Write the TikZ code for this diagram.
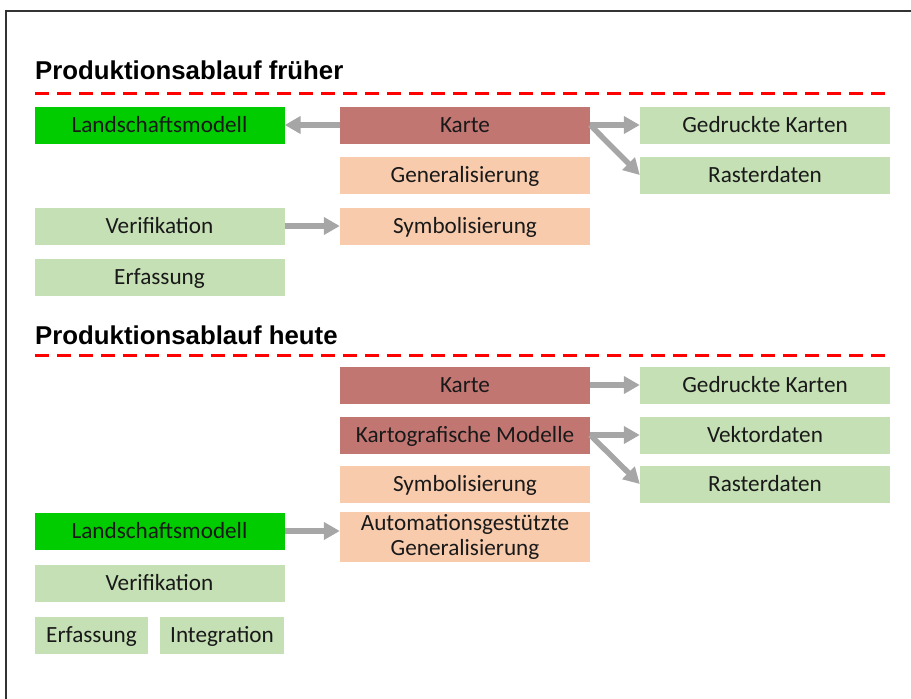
\documentclass[tikz,border=0pt]{standalone}
\usepackage{fontspec}
\setmainfont{Carlito}
\newfontfamily\titlefont{Liberation Sans}
\usepackage{xcolor}
\usepackage{tikz}
\usetikzlibrary{positioning,calc,arrows.meta}

\definecolor{hellgruen}{HTML}{C5E0B4}
\definecolor{vollgruen}{HTML}{00CC00}
\definecolor{kartenrot}{HTML}{C27672}
\definecolor{pfirsich}{HTML}{F8CBAD}
\definecolor{pfeilgrau}{HTML}{A6A6A6}

\begin{document}
\begin{tikzpicture}[x=1pt, y=-1pt,
    box/.style={minimum width=250pt, minimum height=37pt, inner sep=0pt,
        text height=15.5pt, text depth=0.5pt,
        align=center, text=black!90, font=\fontsize{23.2}{25}\selectfont},
    gruen/.style={box, fill=hellgruen},
    modell/.style={box, fill=vollgruen},
    rot/.style={box, fill=kartenrot},
    orange/.style={box, fill=pfirsich},
    titel/.style={anchor=base west, inner sep=0pt, font=\titlefont\bfseries\fontsize{25.8}{30}\selectfont},
    trenn/.style={red, line width=3pt, dash pattern=on 14pt off 8pt},
    pfeil/.style={pfeilgrau, line width=5.5pt, -{Triangle[length=16pt, width=17pt]}}]
    \useasboundingbox (0,0) rectangle (911,699);

    % Rahmen
    \draw [line width=1.2pt, black!80] (6,705) |- (915,11);

    % Produktionsablauf frueher
    \node [titel] (t1) at (35,79) {Produktionsablauf früher};
    \draw [trenn] (35,93) -- (890,93);

    \node [modell] (lm1) at (159.5,125) {Landschaftsmodell};
    \node [rot] (karte1) at (465,125) {Karte};
    \node [gruen] (druck1) at (765,125) {Gedruckte Karten};
    \node [orange] (gen1) at (465,175) {Generalisierung};
    \node [gruen] (raster1) at (765,175) {Rasterdaten};
    \node [gruen] (verif1) at (159.5,226) {Verifikation};
    \node [orange] (symb1) at (465,226) {Symbolisierung};
    \node [gruen] (erf1) at (159.5,277) {Erfassung};

    \draw [pfeil] (karte1.west) -- (lm1.east);
    \draw [pfeil] (karte1.east) -- (druck1.west);
    \draw [pfeil] (karte1.east) -- (raster1.west);
    \draw [pfeil] (verif1.east) -- (symb1.west);

    % Produktionsablauf heute
    \node [titel] (t2) at (35,344) {Produktionsablauf heute};
    \draw [trenn] (35,355) -- (890,355);

    \node [rot] (karte2) at (465,385) {Karte};
    \node [gruen] (druck2) at (765,385) {Gedruckte Karten};
    \node [rot] (kmod) at (465,435) {Kartografische Modelle};
    \node [gruen] (vekt) at (765,435) {Vektordaten};
    \node [orange] (symb2) at (465,484) {Symbolisierung};
    \node [gruen] (raster2) at (765,484) {Rasterdaten};
    \node [orange, minimum height=50pt, text height=, text depth=,
        font=\fontsize{23.2}{24.5}\selectfont] (auto) at (465,537)
        {Automationsgestützte\\Generalisierung};
    \node [modell] (lm2) at (159.5,531) {Landschaftsmodell};
    \node [gruen] (verif2) at (159.5,583) {Verifikation};
    \node [gruen, minimum width=113pt] (erf2) at (91.5,635) {Erfassung};
    \node [gruen, minimum width=124pt] (integ) at (222,635) {Integration};

    \draw [pfeil] (karte2.east) -- (druck2.west);
    \draw [pfeil] (kmod.east) -- (vekt.west);
    \draw [pfeil] (kmod.east) -- (raster2.west);
    \draw [pfeil] (lm2.east) -- (auto.west |- lm2.east);
\end{tikzpicture}
\end{document}
